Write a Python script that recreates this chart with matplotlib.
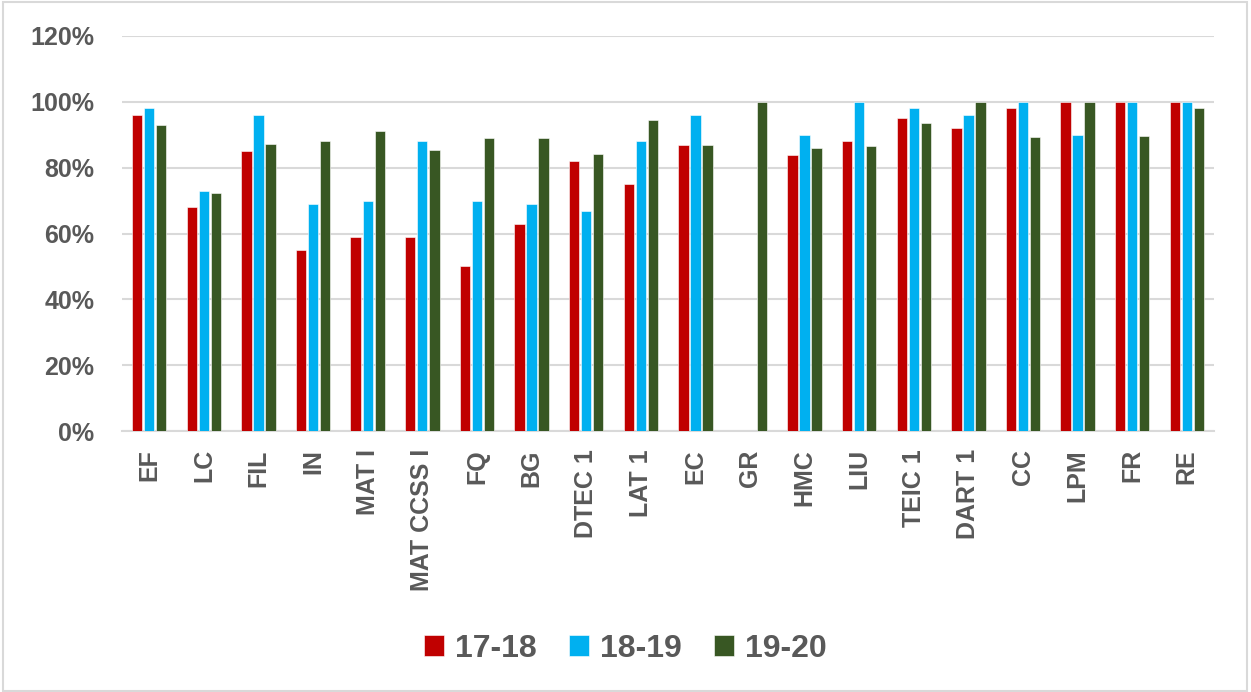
import numpy as np
import matplotlib.pyplot as plt
from matplotlib.patches import Rectangle

# ====== データ ======
categories = ["EF", "LC", "FIL", "IN", "MAT I", "MAT CCSS I", "FQ", "BG", "DTEC 1", "LAT 1",
              "EC", "GR", "HMC", "LIU", "TEIC 1", "DART 1", "CC", "LPM", "FR", "RE"]
series_names = ["17-18", "18-19", "19-20"]
v_17_18 = [96, 68, 85, 55, 59, 59, 50, 63, 82, 75, 87, 0, 84, 88, 95, 92, 98, 100, 100, 100]
v_18_19 = [98, 73, 96, 69, 70, 88, 70, 69, 67, 88, 96, 0, 90, 100, 98, 96, 100, 90, 100, 100]
v_19_20 = [93, 72.4, 87.3, 88, 91, 85.5, 89, 89, 84.3, 94.5, 87, 100, 86, 86.5, 93.5, 100, 89.3, 100, 89.7, 98.2]
colors = ["#C00000", "#00B0F0", "#385723"]
yticks = [0, 20, 40, 60, 80, 100, 120]

txt_color = "#595959"
plt.rcParams['font.family'] = ['Liberation Sans', 'DejaVu Sans']

fig = plt.figure(figsize=(12.51, 6.92), dpi=100)
ax = fig.add_axes([0.0975, 0.377, 0.873, 0.571])

x = np.arange(len(categories))
w = 0.19
step = 0.22
for i, (vals, c, name) in enumerate(zip([v_17_18, v_18_19, v_19_20], colors, series_names)):
    ax.bar(x + (i - 1) * step, vals, width=w, color=c, label=name,
           edgecolor="white", linewidth=0.4, zorder=3)

ax.set_xlim(-0.5, len(categories) - 0.5)
ax.set_ylim(0, 120)
ax.set_yticks(yticks)
ax.set_yticklabels([f"{t}%" for t in yticks], fontsize=18, fontweight="bold", color=txt_color)
ax.set_xticks(x)
ax.set_xticklabels(categories, rotation=90, fontsize=18, fontweight="bold", color=txt_color)
ax.tick_params(axis="y", length=0, pad=20)
ax.tick_params(axis="x", length=0, pad=13)
ax.grid(axis="y", color="#D9D9D9", linewidth=1.5, zorder=0)
for s in ["top", "right", "left"]:
    ax.spines[s].set_visible(False)
ax.spines["bottom"].set_color("#D9D9D9")
ax.spines["bottom"].set_linewidth(1.5)

leg = fig.legend(loc="center", bbox_to_anchor=(0.5, 0.062), ncol=3, frameon=False,
                 prop={"size": 23, "weight": "bold"}, handlelength=0.63, handleheight=0.63,
                 columnspacing=1.0, handletextpad=0.35)
for t in leg.get_texts():
    t.set_color(txt_color)

# 外枠
fig.patches.append(Rectangle((0.002, 0.002), 0.995, 0.995, transform=fig.transFigure,
                             fill=False, edgecolor="#D9D9D9", linewidth=1.5))

plt.savefig("out.png", dpi=100)
plt.close()
